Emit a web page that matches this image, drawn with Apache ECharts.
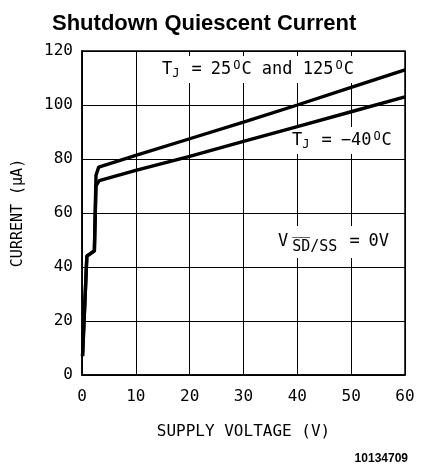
<!DOCTYPE html>
<html lang="en">
<head>
    <meta charset="UTF-8">
    <script src="https://cdn.jsdelivr.net/npm/echarts@6/dist/echarts.min.js"></script>
    <style>
        html, body { margin: 0; padding: 0; background: #fff; }
        #chart { width: 425px; height: 468px; }
    </style>
</head>
<body>
<div id="chart"></div>
<script type="text/javascript">
    // curve data
    const voltageHot = [0.1, 0.9, 2.3, 2.6, 3.1, 10, 20, 30, 40, 50, 60];
    const currentHot = [7, 44, 46, 74, 77, 81.3, 87.5, 93.7, 100, 106.5, 113];
    const voltageCold = [0.1, 0.9, 2.3, 2.6, 3.2, 10, 20, 30, 40, 50, 60];
    const currentCold = [7, 44, 46, 70, 72, 75.8, 81, 86.5, 92, 97.5, 103];

    const xTicks = [0, 10, 20, 30, 40, 50, 60];
    const yTicks = [0, 20, 40, 60, 80, 100, 120];

    const font = 'DejaVu Sans Mono';

    let chart = echarts.init(document.getElementById('chart'));

    function pairs(xs, ys) {
        return xs.map(function (x, i) { return [x, ys[i]]; });
    }

    // rich styles shared by the in-plot notes
    const noteRich = {
        m: { fontFamily: font, fontSize: 17, color: '#000' },
        s: { fontFamily: font, fontSize: 12, color: '#000', padding: [9, 2, 0, 0] },
        e: { fontFamily: font, fontSize: 17, color: '#000', padding: [0, 9, 0, 10] },
        d: { fontFamily: font, fontSize: 12, color: '#000', padding: [0, 1, 7, 2] },
        v: { fontFamily: font, fontSize: 15, color: '#000', padding: [11, 2, 0, 4] }
    };

    let option = {
        animation: false,
        backgroundColor: '#fff',
        title: {
            text: 'Shutdown Quiescent Current',
            left: 47,
            top: 8,
            textStyle: { fontFamily: 'Liberation Sans', fontWeight: 'bold', fontSize: 22, color: '#000' }
        },
        grid: { left: 82, right: 20, top: 51, bottom: 93 },
        xAxis: {
            type: 'value',
            min: xTicks[0],
            max: xTicks[xTicks.length - 1],
            interval: 10,
            name: 'SUPPLY VOLTAGE (V)',
            nameLocation: 'middle',
            nameGap: 49,
            nameTextStyle: { fontFamily: font, fontSize: 16, color: '#000' },
            axisLine: { lineStyle: { color: '#000', width: 1.5 } },
            axisTick: { show: false },
            axisLabel: { fontFamily: font, fontSize: 16, color: '#000', margin: 14 },
            splitLine: { lineStyle: { color: '#000', width: 1 } }
        },
        yAxis: {
            type: 'value',
            min: yTicks[0],
            max: yTicks[yTicks.length - 1],
            interval: 20,
            name: 'CURRENT (\u03bcA)',
            nameLocation: 'middle',
            nameGap: 56,
            nameTextStyle: { fontFamily: font, fontSize: 15, color: '#000' },
            axisLine: { show: true, lineStyle: { color: '#000', width: 1.5 } },
            axisTick: { show: false },
            axisLabel: { fontFamily: font, fontSize: 16, color: '#000', margin: 9 },
            splitLine: { lineStyle: { color: '#000', width: 1 } }
        },
        graphic: [
            // right + top frame
            {
                type: 'rect', z: 100,
                shape: { x: 82, y: 51, width: 323, height: 324 },
                style: { fill: 'none', stroke: '#000', lineWidth: 1.5 }
            },
            {
                type: 'text', left: 158, top: 56, z: 1,
                style: {
                    text: '{m|T}{s|J}{e|=}{m|25}{d|O}{m|C and 125}{d|O}{m|C}',
                    backgroundColor: '#fff', padding: [3, 4],
                    rich: noteRich
                }
            },
            {
                type: 'text', left: 288, top: 127, z: 1,
                style: {
                    text: '{m|T}{s|J}{e|=}{m|\u221240}{d|O}{m|C}',
                    backgroundColor: '#fff', padding: [3, 5, 3, 4],
                    rich: noteRich
                }
            },
            {
                type: 'text', left: 274, top: 226, z: 1,
                style: {
                    text: '{m|V}{v|S\u0305D\u0305/SS}{e|=}{m|0V}',
                    backgroundColor: '#fff', padding: [3, 4],
                    rich: noteRich
                }
            },
            {
                type: 'text', right: 17, top: 453,
                style: { text: '10134709', fontFamily: 'Liberation Sans', fontSize: 12, fontWeight: 'bold', fill: '#000' }
            }
        ],
        series: [
            {
                name: 'TJ = 25C and 125C',
                type: 'line',
                data: pairs(voltageHot, currentHot),
                showSymbol: false,
                lineStyle: { color: '#000', width: 3.4 },
                z: 10
            },
            {
                name: 'TJ = -40C',
                type: 'line',
                data: pairs(voltageCold, currentCold),
                showSymbol: false,
                lineStyle: { color: '#000', width: 3.4 },
                z: 10
            }
        ]
    };

    chart.setOption(option);
</script>
</body>
</html>
